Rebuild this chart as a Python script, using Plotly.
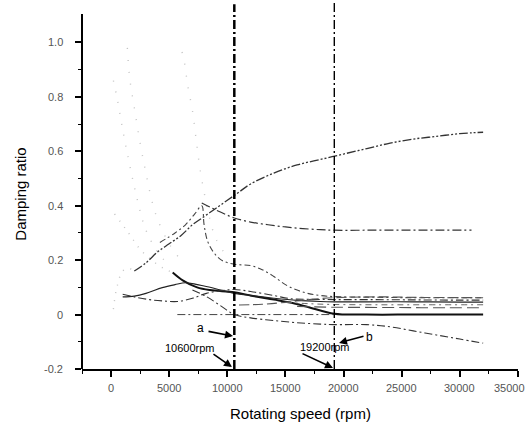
import plotly.graph_objects as go

# ---------------- data ----------------
c1_x = [2000, 3000, 4000, 5000, 6000, 7000, 8000, 9000, 10000, 11000, 12000, 14000, 16000, 18000, 20000, 22000, 24000, 26000, 28000, 30000, 32000]
c1_y = [0.16, 0.19, 0.23, 0.26, 0.29, 0.33, 0.36, 0.39, 0.42, 0.45, 0.48, 0.52, 0.55, 0.57, 0.59, 0.61, 0.63, 0.645, 0.655, 0.665, 0.67]

c2_x = [7800, 8500, 9500, 10600, 12000, 13500, 15000, 16500, 18000, 19200, 22000, 25000, 28000, 31000]
c2_y = [0.41, 0.395, 0.375, 0.355, 0.34, 0.33, 0.322, 0.316, 0.312, 0.31, 0.31, 0.31, 0.31, 0.31]

c3_x = [4200, 5500, 6400, 7200, 7800, 8000, 8300, 8800, 9500, 10600, 12000, 13000, 14000, 15000, 16000, 17000, 18000, 19200, 22000, 26000, 30000, 32000]
c3_y = [0.265, 0.3, 0.33, 0.37, 0.4, 0.33, 0.27, 0.23, 0.2, 0.185, 0.18, 0.165, 0.14, 0.11, 0.09, 0.077, 0.07, 0.066, 0.064, 0.062, 0.062, 0.062]

c4_x = [5300, 6200, 7400, 8500, 10600, 12000, 14000, 15400, 17000, 19200, 22000, 26000, 30000, 32000]
c4_y = [0.155, 0.125, 0.1, 0.09, 0.082, 0.07, 0.055, 0.044, 0.027, 0.003, 0.0, 0.0, 0.0, 0.0]

c5_x = [1000, 2000, 3000, 4400, 5500, 6400, 7000, 8000, 9000, 10600, 12000, 14000, 16000, 18000, 19200, 22000, 26000, 30000, 32000]
c5_y = [0.065, 0.068, 0.078, 0.099, 0.11, 0.117, 0.114, 0.105, 0.095, 0.078, 0.07, 0.06, 0.052, 0.048, 0.047, 0.047, 0.047, 0.046, 0.046]

c6_x = [1000, 2000, 3300, 4500, 5700, 7000, 8200, 9500, 10600, 12000, 14000, 15500, 17000, 19200, 22000, 26000, 30000, 32000]
c6_y = [0.075, 0.065, 0.055, 0.05, 0.048, 0.06, 0.078, 0.088, 0.092, 0.085, 0.07, 0.058, 0.056, 0.055, 0.055, 0.054, 0.053, 0.053]

c7_x = [7000, 8200, 9500, 10600, 12000, 14000, 16000, 18000, 19200, 22000, 24000, 26000, 28000, 30000, 32000]
c7_y = [0.09, 0.066, 0.03, 0.0, -0.012, -0.022, -0.03, -0.035, -0.037, -0.037, -0.045, -0.06, -0.075, -0.09, -0.105]

c8_x = [5700, 19200]
c8_y = [0.0, 0.0]

b1_x = [11000, 13000, 15000, 17000, 19200, 23000, 27000, 32000]
b1_y = [0.035, 0.038, 0.045, 0.055, 0.062, 0.065, 0.063, 0.062]

b2_x = [16000, 19200, 24000, 28000, 32000]
b2_y = [0.03, 0.027, 0.026, 0.025, 0.025]

b3_x = [15000, 17000, 19200, 23000, 27000, 32000]
b3_y = [0.045, 0.04, 0.037, 0.036, 0.036, 0.036]

f1_x = [200, 500, 1000, 1500, 2000, 2500, 3000, 4000, 5000]
f1_y = [0.86, 0.8, 0.68, 0.57, 0.47, 0.38, 0.31, 0.23, 0.18]

f2_x = [1400, 1600, 2000, 2500, 3000, 3500, 4000, 5000, 6000]
f2_y = [0.98, 0.87, 0.76, 0.63, 0.52, 0.42, 0.35, 0.26, 0.2]

f3_x = [6100, 6300, 6600, 7000, 7300, 7600, 8000, 8500, 9000, 10000]
f3_y = [0.965, 0.93, 0.84, 0.75, 0.65, 0.55, 0.45, 0.35, 0.28, 0.21]

f4_x = [300, 1500, 2500, 3500, 4500, 5300]
f4_y = [0.37, 0.3, 0.24, 0.2, 0.17, 0.155]

f5_x = [200, 500, 1000, 1500, 2000]
f5_y = [0.02, 0.1, 0.16, 0.17, 0.16]

vline_x = [10600, 19200]
xtick_vals = [0, 5000, 10000, 15000, 20000, 25000, 30000, 35000]
xtick_text = ["0", "5000", "10000", "15000", "20000", "25000", "30000", "35000"]
ytick_vals = [-0.2, 0, 0.2, 0.4, 0.6, 0.8, 1.0]
ytick_text = ["-0.2", "0", "0.2", "0.4", "0.6", "0.8", "1.0"]

# ---------------- figure ----------------
fig = go.Figure()

def add(x, y, color, width, dash):
    fig.add_trace(go.Scatter(x=x, y=y, mode="lines", line=dict(color=color, width=width, dash=dash, shape="spline"),
                             hoverinfo="skip", showlegend=False))

faint = "#c4c4c4"
add(f1_x, f1_y, faint, 1.4, "1px,10px")
add(f2_x, f2_y, faint, 1.4, "1px,11px")
add(f3_x, f3_y, faint, 1.4, "1px,11px")
add(f4_x, f4_y, faint, 1.4, "1px,7px")
add(f5_x, f5_y, faint, 1.4, "1px,7px")

add(c1_x, c1_y, "#333333", 1.3, "9px,2px,2px,2px,2px,2px")
add(c2_x, c2_y, "#333333", 1.2, "9px,3px,2px,3px")
add(c3_x, c3_y, "#444444", 1.1, "6px,3px,2px,3px")
add(c4_x, c4_y, "#111111", 2.0, "solid")
add(c5_x, c5_y, "#222222", 1.2, "solid")
add(c6_x, c6_y, "#333333", 1.1, "8px,3px,2px,3px")
add(c7_x, c7_y, "#333333", 1.1, "8px,3px,2px,3px")
add(c8_x, c8_y, "#444444", 1.0, "8px,3px,2px,3px")
add(b1_x, b1_y, "#555555", 1.1, "10px,4px")
add(b2_x, b2_y, "#555555", 1.1, "12px,5px")
add(b3_x, b3_y, "#666666", 1.0, "6px,4px,2px,4px")

shapes = [
    dict(type="line", xref="x", yref="y", x0=vline_x[0], x1=vline_x[0], y0=-0.2, y1=1.14,
         line=dict(color="black", width=2.5, dash="9px,3px,2px,3px")),
    dict(type="line", xref="x", yref="y", x0=vline_x[1], x1=vline_x[1], y0=-0.2, y1=1.145,
         line=dict(color="black", width=1.4, dash="9px,3px,2px,3px")),
    dict(type="line", xref="paper", yref="y", x0=0, x1=0, y0=-0.2, y1=1.105,
         line=dict(color="black", width=2)),
]

fig.update_layout(
    width=529, height=430,
    margin=dict(l=82, r=11, t=3, b=61),
    paper_bgcolor="white", plot_bgcolor="white",
    shapes=shapes,
    xaxis=dict(range=[-2500, 35000], showgrid=False, zeroline=False, showline=True, linecolor="black", linewidth=2,
               ticks="outside", ticklen=6, tickwidth=1.5, tickcolor="black",
               tickvals=xtick_vals, showticklabels=False,
               minor=dict(ticks="outside", ticklen=3, tickwidth=1.2, tickcolor="black", dtick=2500, tick0=0)),
    yaxis=dict(range=[-0.2, 1.145], showgrid=False, zeroline=False, showline=False,
               ticks="outside", ticklen=6, tickwidth=1.5, tickcolor="black",
               tickvals=ytick_vals, showticklabels=False,
               minor=dict(ticks="outside", ticklen=3, tickwidth=1.2, tickcolor="black", tickvals=[-0.1, 0.1, 0.3, 0.5, 0.7, 0.9])),
)

tf = dict(family="Liberation Sans, Arial, sans-serif", size=11, color="#555555")
af = dict(family="Liberation Sans, Arial, sans-serif", color="black")
ann = []
for v, t in zip(ytick_vals, ytick_text):
    ann.append(dict(text=t, xref="paper", yref="y", x=0, y=v, xshift=-17, xanchor="right", yanchor="middle",
                    showarrow=False, font=tf))
for i, (v, t) in enumerate(zip(xtick_vals, xtick_text)):
    last = i == len(xtick_vals) - 1
    ann.append(dict(text=t, xref="x", yref="paper", x=v, y=0, yshift=-19,
                    xanchor="right" if last else "center", xshift=9 if last else 0, yanchor="middle",
                    showarrow=False, font=tf))
ann += [
    dict(text="Damping ratio", xref="paper", yref="paper", x=-0.143, y=0.478, showarrow=False, textangle=-90,
         font=dict(size=15, **af), xanchor="center", yanchor="middle"),
    dict(text="Rotating speed (rpm)", xref="paper", yref="paper", x=0.5, y=-0.122, showarrow=False,
         font=dict(size=15, **af), xanchor="center", yanchor="middle"),
    dict(text="a", x=7650, y=-0.049, showarrow=False, font=dict(size=12, **af)),
    dict(text="10600rpm", x=6790, y=-0.123, showarrow=False, font=dict(size=11, **af)),
    dict(text="19200rpm", x=18400, y=-0.119, showarrow=False, font=dict(size=11, **af)),
    dict(text="b", x=22270, y=-0.082, showarrow=False, font=dict(size=12, **af)),
    dict(text="", x=10488, y=-0.079, ax=-26, ay=-5, showarrow=True, arrowhead=2, arrowsize=1, arrowwidth=1.6, arrowcolor="black"),
    dict(text="", x=10400, y=-0.193, ax=-20, ay=-14, showarrow=True, arrowhead=2, arrowsize=1, arrowwidth=1.6, arrowcolor="black"),
    dict(text="", x=19089, y=-0.196, ax=-32, ay=-15, showarrow=True, arrowhead=2, arrowsize=1, arrowwidth=1.6, arrowcolor="black"),
    dict(text="", x=19605, y=-0.104, ax=26, ay=-7, showarrow=True, arrowhead=2, arrowsize=1, arrowwidth=1.6, arrowcolor="black"),
]
fig.update_layout(annotations=ann)

fig.write_html("out.html", config={"displayModeBar": False}, post_script="document.body.style.margin='0';")
